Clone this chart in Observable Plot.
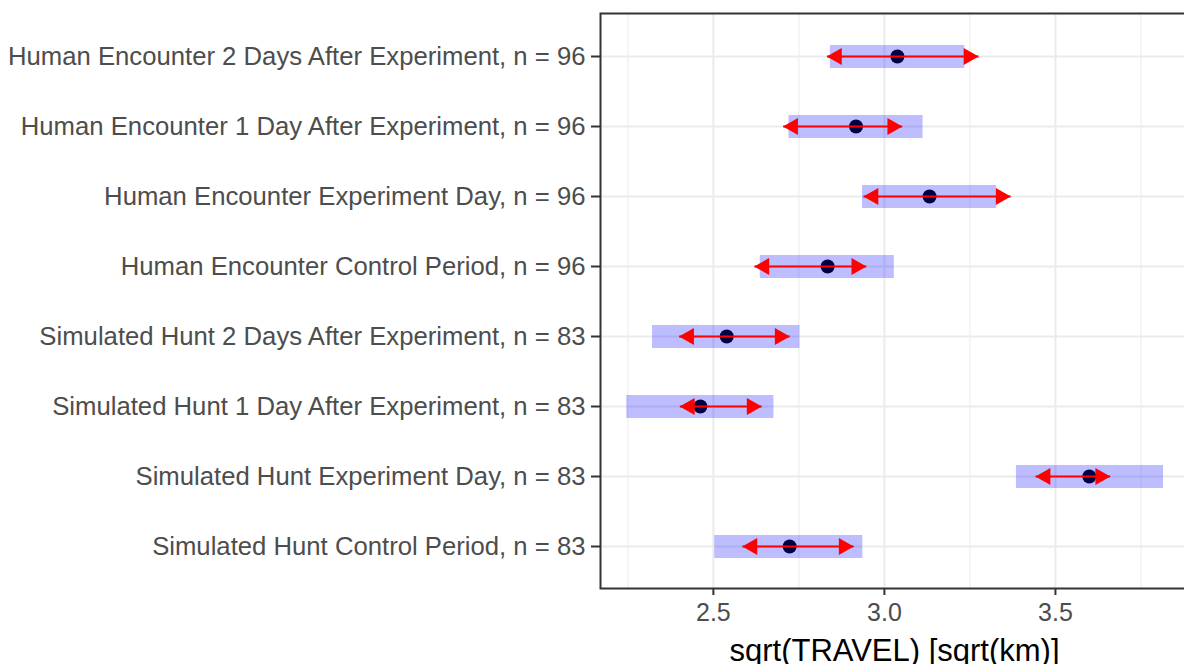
<!DOCTYPE html>
<html><head><meta charset="utf-8">
<script src="https://cdn.jsdelivr.net/npm/d3@7"></script>
<script src="https://cdn.jsdelivr.net/npm/@observablehq/plot@0.6"></script>
<style>
html,body{margin:0;padding:0;background:#fff;overflow:hidden}
#wrap{width:1184px;height:664px;overflow:hidden;position:relative}
#wrap svg{max-width:none !important;display:block}
</style></head><body><div id="wrap"></div>
<script>
const labels = [
  "Human Encounter 2 Days After Experiment, n = 96",
  "Human Encounter 1 Day After Experiment, n = 96",
  "Human Encounter Experiment Day, n = 96",
  "Human Encounter Control Period, n = 96",
  "Simulated Hunt 2 Days After Experiment, n = 83",
  "Simulated Hunt 1 Day After Experiment, n = 83",
  "Simulated Hunt Experiment Day, n = 83",
  "Simulated Hunt Control Period, n = 83"
];
const means     = [3.038, 2.917, 3.132, 2.834, 2.539, 2.462, 3.599, 2.723];
const ciLow     = [2.842, 2.721, 2.936, 2.637, 2.322, 2.247, 3.386, 2.504];
const ciHigh    = [3.235, 3.113, 3.328, 3.029, 2.753, 2.677, 3.816, 2.937];
const arrowLow  = [2.832, 2.704, 2.939, 2.620, 2.400, 2.402, 3.442, 2.585];
const arrowHigh = [3.275, 3.052, 3.369, 2.947, 2.723, 2.641, 3.660, 2.910];
const xTicks = [2.5, 3.0, 3.5];
const xMinorTicks = [2.25, 2.75, 3.25, 3.75];
const xTitle = "sqrt(TRAVEL) [sqrt(km)]";

const rows = labels.map((label, i) => ({
  label, mean: means[i], lo: ciLow[i], hi: ciHigh[i], aLo: arrowLow[i], aHi: arrowHigh[i]
}));

const chart = Plot.plot({
  width: 1190, height: 664,
  marginLeft: 600, marginRight: 2, marginTop: 13, marginBottom: 76,
  style: {fontFamily: "'Liberation Sans', Arial, sans-serif", background: "#fff", color: "#4d4d4d", maxWidth: "none"},
  x: {domain: [2.170, 3.889], label: null},
  y: {type: "point", domain: labels, padding: 0.6, label: null},
  marks: [
    Plot.ruleX(xMinorTicks, {stroke: "#f2f2f2", strokeWidth: 1.5}),
    Plot.ruleX(xTicks, {stroke: "#ebebeb", strokeWidth: 2}),
    Plot.ruleY(labels, {stroke: "#ebebeb", strokeWidth: 2}),
    Plot.dot(rows, {x: "mean", y: "label", r: 7, fill: "black", stroke: "none"}),
    Plot.ruleY(rows, {y: "label", x1: "lo", x2: "hi", stroke: "blue", strokeOpacity: 0.26, strokeWidth: 23}),
    Plot.link(rows, {x1: "aLo", x2: "aHi", y1: "label", y2: "label", stroke: "red", strokeWidth: 2.2}),
    Plot.dot(rows, {x: "aHi", y: "label", symbol: "triangle", rotate: 90, r: 6.4, fill: "red", stroke: "none", dx: -9.8}),
    Plot.dot(rows, {x: "aLo", y: "label", symbol: "triangle", rotate: -90, r: 6.4, fill: "red", stroke: "none", dx: 9.8}),
    Plot.frame({stroke: "#333333", strokeWidth: 2}),
    Plot.axisY({tickSize: 9, tickPadding: 6, fontSize: 25.7, fill: "#4d4d4d", stroke: "#333333", strokeWidth: 2, label: null}),
    Plot.axisX({ticks: xTicks, tickFormat: d3.format(".1f"), tickSize: 7, tickPadding: 8, fontSize: 25, fill: "#4d4d4d", stroke: "#333333", strokeWidth: 2, label: null}),
    Plot.text([xTitle], {text: d => d, frameAnchor: "bottom", dy: 72, lineAnchor: "bottom", fontSize: 31, fill: "black"})
  ]
});
chart.style.maxWidth = "none";
document.getElementById("wrap").appendChild(chart);
</script>
</body></html>
